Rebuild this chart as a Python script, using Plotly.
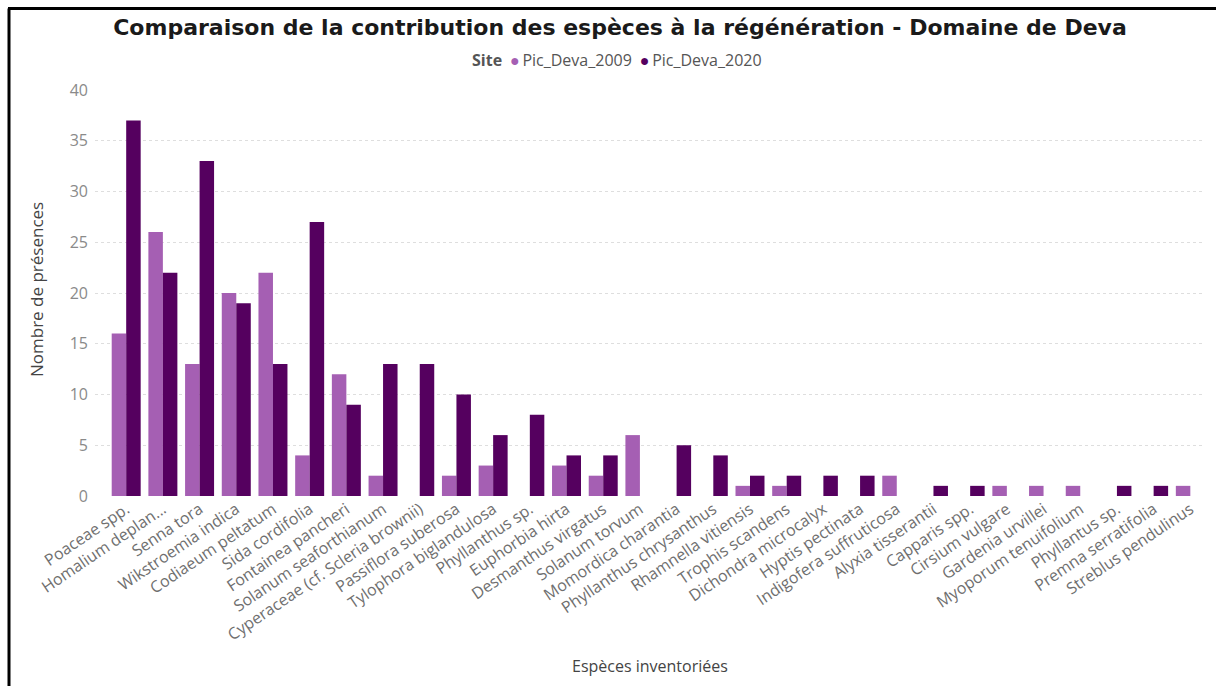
import plotly.graph_objects as go

# Species inventoried in the Deva domain, in the order shown on the axis
species = [
    "Poaceae spp.", "Homalium deplan...", "Senna tora", "Wikstroemia indica",
    "Codiaeum peltatum", "Sida cordifolia", "Fontainea pancheri",
    "Solanum seaforthianum", "Cyperaceae (cf. Scleria brownii)",
    "Passiflora suberosa", "Tylophora biglandulosa", "Phyllanthus sp.",
    "Euphorbia hirta", "Desmanthus virgatus", "Solanum torvum",
    "Momordica charantia", "Phyllanthus chrysanthus", "Rhamnella vitiensis",
    "Trophis scandens", "Dichondra microcalyx", "Hyptis pectinata",
    "Indigofera suffruticosa", "Alyxia tisserantii", "Capparis spp.",
    "Cirsium vulgare", "Gardenia urvillei", "Myoporum tenuifolium",
    "Phyllantus sp.", "Premna serratifolia", "Streblus pendulinus",
]

# Number of presences per site survey
deva_2009 = [16, 26, 13, 20, 22, 4, 12, 2, 0, 2, 3, 0, 3, 2, 6,
             0, 0, 1, 1, 0, 0, 2, 0, 0, 1, 1, 1, 0, 0, 1]
deva_2020 = [37, 22, 33, 19, 13, 27, 9, 13, 13, 10, 6, 8, 4, 4, 0,
             5, 4, 2, 2, 2, 2, 0, 1, 1, 0, 0, 0, 1, 1, 0]

y_ticks = [0, 5, 10, 15, 20, 25, 30, 35, 40]

COL_2009 = "#A55FB3"
COL_2020 = "#55005F"
TEXT_GREY = "#6f6f6f"
FONT = "Open Sans, Segoe UI, sans-serif"

W, H = 1216, 686
ML, MR, MT, MB = 95, 11, 90, 190
PW, PH = W - ML - MR, H - MT - MB


def px_x(px):
    return (px - ML) / PW


def px_y(py):
    return (H - MB - py) / PH


fig = go.Figure()
fig.add_trace(go.Bar(x=list(range(len(species))), y=deva_2009, name="Pic_Deva_2009",
                     marker_color=COL_2009, marker_line_width=0, showlegend=False))
fig.add_trace(go.Bar(x=list(range(len(species))), y=deva_2020, name="Pic_Deva_2020",
                     marker_color=COL_2020, marker_line_width=0, showlegend=False))

fig.update_layout(
    width=W, height=H,
    margin=dict(l=ML, r=MR, t=MT, b=MB),
    paper_bgcolor="white", plot_bgcolor="white",
    barmode="group", bargap=0.21, bargroupgap=0,
    font=dict(family=FONT, color=TEXT_GREY),
    title=dict(
        text="<b>Comparaison de la contribution des espèces à la régénération - Domaine de Deva</b>",
        font=dict(family="DejaVu Sans, Arial Black, sans-serif", size=22, color="#1a1a1a"),
        xref="container", x=620 / W, xanchor="center",
        yref="container", y=1 - 27 / H, yanchor="middle",
    ),
    xaxis=dict(
        tickmode="array", tickvals=list(range(len(species))), ticktext=species,
        tickangle=-34, tickfont=dict(size=16, color=TEXT_GREY),
        range=[-0.85, 29.4], showgrid=False, showline=False, zeroline=False,
        ticks="",
    ),
    yaxis=dict(
        range=[0, 40], tickvals=y_ticks, tickfont=dict(size=16, color="#8a8a8a"),
        showgrid=True, gridcolor="#dedede", griddash="dot", gridwidth=1,
        zeroline=False, showline=False, ticks="", ticklabelstandoff=6,
    ),
)

# Legend line drawn as text with coloured dots
legend_text = (
    "<b>Site</b>\u2002"
    f"<span style='color:{COL_2009}'>●</span>\u2009Pic_Deva_2009\u2002"
    f"<span style='color:{COL_2020}'>●</span>\u2009Pic_Deva_2020"
)
fig.add_annotation(text=legend_text, xref="paper", yref="paper",
                   x=px_x(617), y=px_y(60), xanchor="center", yanchor="middle",
                   showarrow=False, font=dict(family=FONT, size=16, color="#555555"))

# Axis titles
fig.add_annotation(text="Nombre de présences", xref="paper", yref="paper",
                   x=px_x(36), y=px_y(290), textangle=-90, xanchor="center",
                   yanchor="middle", showarrow=False,
                   font=dict(family=FONT, size=17, color="#444444"))
fig.add_annotation(text="Espèces inventoriées", xref="paper", yref="paper",
                   x=px_x(650), y=px_y(666), xanchor="center", yanchor="middle",
                   showarrow=False, font=dict(family=FONT, size=16, color="#444444"))

# Black frame on the top and left edges
fig.add_shape(type="line", xref="paper", yref="paper",
              x0=px_x(8), x1=px_x(1220), y0=px_y(8.5), y1=px_y(8.5),
              line=dict(color="black", width=3))
fig.add_shape(type="line", xref="paper", yref="paper",
              x0=px_x(9), x1=px_x(9), y0=px_y(8.5), y1=px_y(690),
              line=dict(color="black", width=3))

fig.write_html("out.html")
